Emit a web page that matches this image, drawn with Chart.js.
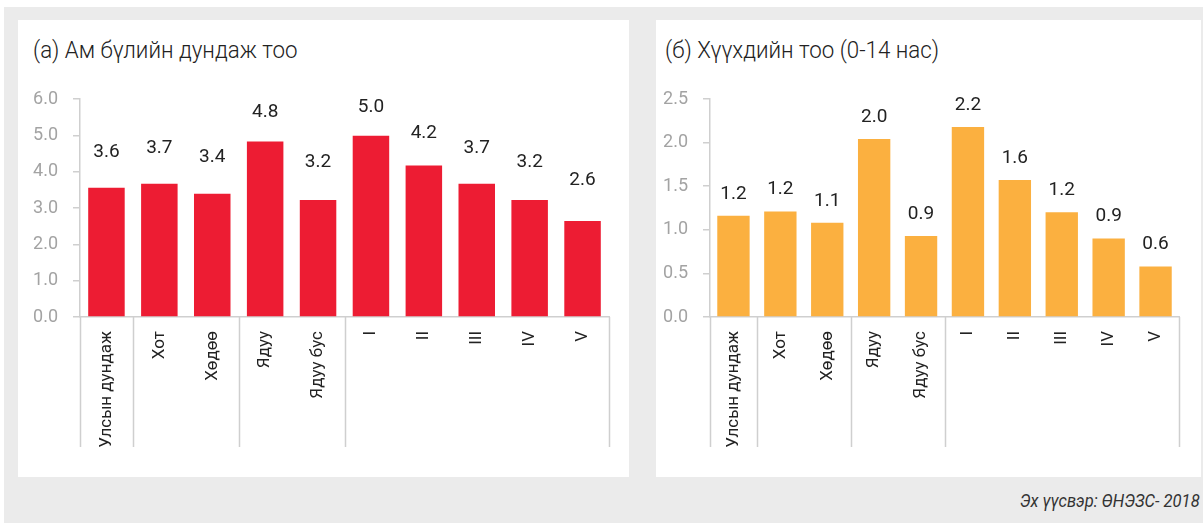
<!DOCTYPE html>
<html>
<head>
<meta charset="utf-8">
<script src="https://cdn.jsdelivr.net/npm/chart.js@4.4.1/dist/chart.umd.min.js"></script>
<style>
  body { margin: 0; background: #fff; width: 1203px; height: 523px; overflow: hidden; position: relative; font-family: Roboto, sans-serif; }
  #bg { position: absolute; left: 4px; top: 7px; width: 1199px; height: 516px; background: #ebebeb; }
  .panel { position: absolute; top: 20px; height: 457px; background: #fff; }
  .panel canvas { position: absolute; left: 0; top: 0; }
  .title { position: absolute; top: 18px; font-size: 24px; line-height: 24px; font-weight: 300; color: #222; white-space: nowrap; transform: scaleX(0.93); transform-origin: left; }
  #source { position: absolute; right: 3px; top: 492px; font-size: 18px; line-height: 18px; font-style: italic; color: #333; white-space: nowrap; transform: scaleX(0.92); transform-origin: right; }
</style>
</head>
<body>
<div id="bg"></div>
<div class="panel" id="p1" style="left:18px;width:611px;">
  <div class="title" style="left:15px;">(а) Ам бүлийн дундаж тоо</div>
  <canvas id="chart1" width="611" height="457"></canvas>
</div>
<div class="panel" id="p2" style="left:656px;width:545px;">
  <div class="title" style="left:9px;">(б) Хүүхдийн тоо (0-14 нас)</div>
  <canvas id="chart2" width="545" height="457"></canvas>
</div>
<div id="source">Эх үүсвэр: ӨНЭЗС- 2018</div>
<script>
"use strict"
// categories shared by both charts
const categories = ["Улсын дундаж", "Хот", "Хөдөө", "Ядуу", "Ядуу бус", "I", "II", "III", "IV", "V"];
// category group boundaries (index where a group starts)
const groupBreaks = [0, 1, 3, 5, 10];

// (а) average household size
const householdSize = [3.56, 3.67, 3.39, 4.83, 3.22, 4.99, 4.17, 3.67, 3.22, 2.64];
const householdTicks = { max: 6, step: 1 };

// (б) number of children (0-14)
const childrenCount = [1.16, 1.21, 1.08, 2.04, 0.93, 2.18, 1.57, 1.20, 0.90, 0.58];
const childrenTicks = { max: 2.5, step: 0.5 };

const axisColor = "#cfcfcf";

const groupLines = {
    id: "groupLines",
    afterDraw(chart, args, opts) {
        const x = chart.scales.x;
        const ctx = chart.ctx;
        ctx.save();
        ctx.strokeStyle = axisColor;
        ctx.lineWidth = 1.5;
        groupBreaks.forEach(b => {
            const px = Math.round(x.getPixelForValue(b - 0.5)) + 0.5;
            ctx.beginPath();
            ctx.moveTo(px, x.top);
            ctx.lineTo(px, opts.bottom);
            ctx.stroke();
        });
        ctx.restore();
    }
};

const valueLabels = {
    id: "valueLabels",
    afterDatasetsDraw(chart, args, opts) {
        const ctx = chart.ctx;
        const meta = chart.getDatasetMeta(0);
        const data = chart.data.datasets[0].data;
        ctx.save();
        ctx.fillStyle = "#222";
        ctx.font = "19px Roboto";
        ctx.textAlign = "center";
        ctx.textBaseline = "middle";
        meta.data.forEach((bar, i) => {
            const h = bar.base - bar.y;
            const lift = opts.lift + opts.shrink * h;
            ctx.fillText(data[i].toFixed(1), bar.x, bar.y - lift);
        });
        ctx.restore();
    }
};

function makeChart(id, values, color, ticks, padLeft, padRight, labelOpts) {
    return new Chart(document.getElementById(id), {
        type: "bar",
        data: {
            labels: categories,
            datasets: [{
                data: values,
                backgroundColor: color,
                categoryPercentage: 1,
                barPercentage: 0.69
            }]
        },
        options: {
            responsive: false,
            animation: false,
            layout: { padding: { left: padLeft, right: padRight, top: 79, bottom: 10 } },
            plugins: {
                legend: { display: false },
                tooltip: { enabled: false },
                groupLines: { bottom: 427 },
                valueLabels: labelOpts
            },
            scales: {
                x: {
                    grid: { display: false, drawTicks: false },
                    border: { display: true, color: axisColor, width: 1.5 },
                    ticks: {
                        minRotation: 90, maxRotation: 90, autoSkip: false,
                        padding: 14, color: "#222",
                        font: { family: "Roboto", size: 17 }
                    },
                    afterFit(scale) { scale.height = 150; }
                },
                y: {
                    min: 0,
                    max: ticks.max,
                    grid: { drawOnChartArea: false, drawTicks: true, tickLength: 7, color: axisColor, lineWidth: 1.5 },
                    border: { display: true, color: axisColor, width: 1.5 },
                    ticks: {
                        stepSize: ticks.step,
                        padding: 15,
                        color: "#a3a3a3",
                        font: { family: "Roboto", size: 18 },
                        callback: v => v.toFixed(1)
                    },
                    afterFit(scale) { scale.width = 50; }
                }
            }
        },
        plugins: [groupLines, valueLabels]
    });
}

makeChart("chart1", householdSize, "#ed1c33", householdTicks, 12, 20, { lift: 54.5, shrink: -0.146 });
makeChart("chart2", childrenCount, "#fbb040", childrenTicks, 4, 22, { lift: 22, shrink: 0 });
</script>
</body>
</html>
